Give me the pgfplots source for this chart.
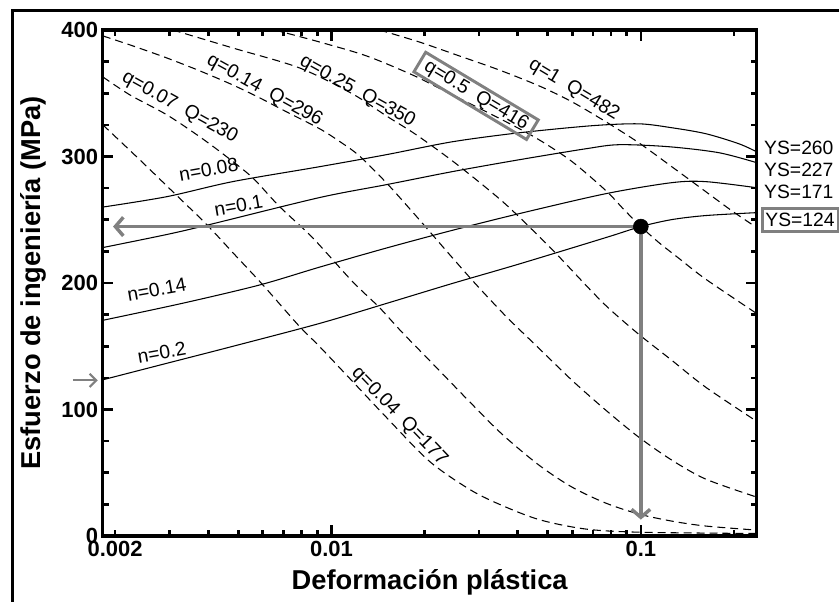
\documentclass[border=0pt]{standalone}
\usepackage{fontspec}
\setmainfont{Liberation Sans}
\usepackage{pgfplots}
\pgfplotsset{compat=1.18}
\usetikzlibrary{arrows.meta}

\definecolor{annogray}{RGB}{128,128,128}
\tikzset{anno/.style={font=\fontsize{14.5}{16}\selectfont}}

\begin{document}
\begin{tikzpicture}
\begin{axis}[
  xmode=log,
  scale only axis,
  width=491.25pt, height=380.25pt,
  xmin=0.001825, xmax=0.2367,
  ymin=0, ymax=400,
  clip=false,
  xtick={0.01,0.1},
  xticklabels={0.01,0.1},
  extra x ticks={0.002},
  extra x tick labels={0.002},
  extra x tick style={grid=none, major tick length=4.5pt},
  minor xtick={0.003,0.004,0.005,0.006,0.007,0.008,0.009,0.02,0.03,0.04,0.05,0.06,0.07,0.08,0.09,0.2},
  ytick={0,100,200,300,400},
  yticklabels={0,100,200,300,400},
  minor ytick={25,50,75,125,150,175,225,250,275,325,350,375},
  tick align=inside,
  major tick length=8pt,
  minor tick length=4.5pt,
  tick style={black, line width=2pt},
  axis line style={line width=2.4pt},
  tick label style={font=\fontsize{16.5}{18}\selectfont\bfseries},
  /pgf/number format/assume math mode=true,
  label style={font=\fontsize{20.5}{24}\selectfont\bfseries},
  xlabel={Deformación plástica},
  ylabel={Esfuerzo de ingeniería (MPa)},
  xlabel style={at={(axis description cs:0.5,-0.0907)}, anchor=center},
  ylabel style={at={(axis description cs:-0.1069,0.5)}, anchor=center},
]
% curvas esfuerzo-deformacion (n)
\addplot[black, line width=0.8pt, smooth] coordinates {
(0.001825,260) (0.002935,268.2) (0.004793,280.1) (0.009147,291.9) (0.01504,301.4)
(0.02457,311.6) (0.04042,318.7) (0.06948,324.3) (0.09853,325.8) (0.1259,322.7)
(0.1621,318.0) (0.2071,310.1) (0.2367,303.7)};
\addplot[black, line width=0.8pt, smooth] coordinates {
(0.001825,228) (0.002935,238.3) (0.004042,246.2) (0.009147,267.5) (0.01504,277.7)
(0.02457,288.0) (0.04042,297.4) (0.06647,306.1) (0.08492,309.3) (0.1231,307.7)
(0.1785,303.0) (0.2367,295.1)};
\addplot[black, line width=0.8pt, smooth] coordinates {
(0.001825,170.5) (0.003307,184.0) (0.005856,198.4) (0.009147,212.5) (0.01504,227.6)
(0.02457,241.6) (0.04042,254.8) (0.07711,270.6) (0.1259,279.3) (0.1621,280.1)
(0.2367,275.3)};
\addplot[black, line width=0.8pt, smooth] coordinates {
(0.001825,123.5) (0.002935,136.5) (0.004793,149.9) (0.009147,168.0) (0.01504,183.8)
(0.02457,199.6) (0.04042,215.0) (0.07711,235.9) (0.1,244.6) (0.1259,250.1)
(0.1621,253.3) (0.2367,255.6)};

% curvas q, Q (discontinuas)
\addplot[black, line width=0.8pt, dash pattern=on 6pt off 3.75pt, smooth] coordinates {
(0.001825,325.0) (0.002402,297.4) (0.003070,272.2) (0.003953,246.2) (0.004865,222.5)
(0.005989,198.8) (0.007885,165.7) (0.009147,149.9) (0.01169,122.3) (0.01504,93.9)
(0.02071,59.2) (0.02787,37.1) (0.03482,25.2) (0.04688,13.0) (0.0665,5.5)
(0.1,3.0) (0.2367,2.0)};
\addplot[black, line width=0.8pt, dash pattern=on 6pt off 3.75pt, smooth] coordinates {
(0.001825,362.9) (0.002231,348.7) (0.002935,333.0) (0.003752,315.6) (0.004585,299.8)
(0.005562,283.2) (0.006797,260.4) (0.008683,235.9) (0.01169,201.2) (0.01428,180.7)
(0.01694,160.9) (0.02182,133.3) (0.02787,106.5) (0.03561,80.5) (0.04688,56.0)
(0.05989,38.7) (0.07711,26.0) (0.09853,17.4) (0.1259,11.8) (0.1621,7.9) (0.2367,4.7)};
\addplot[black, line width=0.8pt, dash pattern=on 6pt off 3.75pt, smooth] coordinates {
(0.001825,395.3) (0.002281,387.4) (0.002935,377.9) (0.003752,367.7) (0.004793,356.6)
(0.005856,346.4) (0.007157,335.3) (0.009147,322.0) (0.01061,312.0) (0.01231,300.5)
(0.01504,279.3) (0.01825,256.4) (0.02117,238.3) (0.02457,220.1) (0.02935,198.8)
(0.03668,173.6) (0.04688,148.3) (0.05989,123.1) (0.07711,99.4) (0.09853,78.1)
(0.1259,60.0) (0.1621,45.0) (0.2367,30.8)};
\addplot[black, line width=0.8pt, dash pattern=on 6pt off 3.75pt, smooth] coordinates {
(0.003070,400) (0.004793,385.8) (0.007885,370.0) (0.01169,349.5) (0.01504,332.1)
(0.01879,317.2) (0.02457,296.6) (0.03162,275.3) (0.03668,261.9) (0.04256,246.9)
(0.05318,223.3) (0.06797,195.7) (0.07885,179.9) (0.09853,159.4) (0.1259,138.9)
(0.1621,117.6) (0.2367,90.7)};
\addplot[black, line width=0.8pt, dash pattern=on 6pt off 3.75pt, smooth] coordinates {
(0.006548,400) (0.009147,390.5) (0.01297,379.5) (0.01825,364.5) (0.0235,351.1)
(0.03668,327.4) (0.04688,313.2) (0.05989,296) (0.07711,273) (0.0882,258)
(0.1,244.6) (0.1143,232) (0.1327,219.5) (0.1621,203) (0.2367,175.9)};
\addplot[black, line width=0.8pt, dash pattern=on 6pt off 3.75pt, smooth] coordinates {
(0.01428,400) (0.01922,390.5) (0.02588,379.5) (0.03482,368.4) (0.04688,355.8)
(0.05989,343.2) (0.07711,327.4) (0.09853,310.8) (0.1259,291.9) (0.1621,272.2)
(0.1965,257.2) (0.2367,243.8)};

% flechas y punto
\addplot[annogray, line width=2.6pt, -{Straight Barb[length=6pt,width=14pt]}]
  coordinates {(0.1,244.6) (0.00197,244.6)};
\addplot[annogray, line width=2.6pt, -{Straight Barb[length=6pt,width=14pt]}]
  coordinates {(0.1,244.6) (0.1,13)};
\addplot[annogray, line width=1.6pt, -{Straight Barb[length=5pt,width=10pt]}]
  coordinates {(0.001461,123) (0.001758,123)};
\addplot[only marks, mark=*, mark size=5.6pt, black] coordinates {(0.1,244.6)};

% etiquetas
\node[anno, rotate=10] at (axis cs:0.004011,289.5) {n=0.08};
\node[anno, rotate=10] at (axis cs:0.005012,261.1) {n=0.1};
\node[anno, rotate=10] at (axis cs:0.002726,194.9) {n=0.14};
\node[anno, rotate=10] at (axis cs:0.002829,145.2) {n=0.2};
\node[anno, rotate=-29] at (axis cs:0.003234,338.5) {q=0.07~~Q=230};
\node[anno, rotate=-29] at (axis cs:0.006079,351.9) {q=0.14~~Q=296};
\node[anno, rotate=-29] at (axis cs:0.01213,351.1) {q=0.25~~Q=350};
\node[anno, rotate=-31, draw=annogray, line width=2.2pt, inner xsep=5pt, inner ysep=2pt]
  at (axis cs:0.02935,347.9) {q=0.5~~Q=416};
\node[anno, rotate=-31] at (axis cs:0.06079,352.7) {q=1~~Q=482};
\node[anno, rotate=-46] at (axis cs:0.01657,94.7) {q=0.04~~Q=177};
\end{axis}

\begin{scope}[every node/.style={anno, anchor=west, inner xsep=2.5pt, inner ysep=3.5pt}]
\node at (494.25pt,291.75pt) {YS=260};
\node at (494.25pt,275.25pt) {YS=227};
\node at (494.25pt,258.75pt) {YS=171};
\node[draw=annogray, line width=2.2pt] at (494.25pt,237.75pt) {YS=124};
\end{scope}

\draw[line width=2.25pt] (-67.5pt,-49.5pt) -- (-67.5pt,394.5pt) -- (552.75pt,394.5pt);
\useasboundingbox (-77.25pt,-49.5pt) rectangle (552.75pt,402.75pt);
\end{tikzpicture}
\end{document}
